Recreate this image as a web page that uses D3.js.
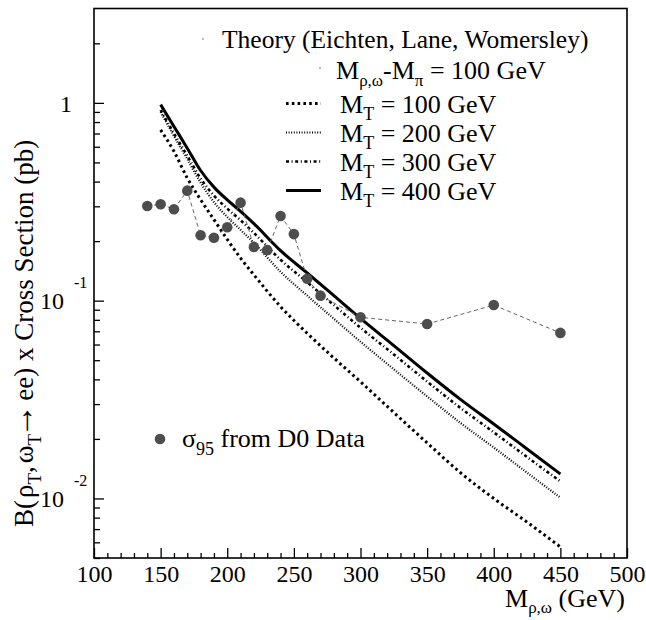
<!DOCTYPE html>
<html>
<head>
<meta charset="UTF-8">
<title>Technicolor cross section</title>
<script src="https://d3js.org/d3.v7.min.js"></script>
<style>
  body { margin: 0; background: #fff; }
  svg text { font-family: "Liberation Serif", "Times New Roman", serif; fill: #000; }
  .axis path { display: none; }
  .axis line { stroke: #000; stroke-width: 1.3px; }
  .axis text { font-size: 24px; font-family: "Liberation Serif", serif; }
</style>
</head>
<body>
<svg width="646" height="620"></svg>
<script>
// theory curves, M_rho,omega - M_pi = 100 GeV
var massGrid = [150, 160, 170, 180, 190, 200, 210, 220, 240, 260, 280, 300, 325, 350, 375, 400, 425, 450];
var mt100 = [0.73, 0.569, 0.417, 0.324, 0.257, 0.204, 0.164, 0.135, 0.0933, 0.0684, 0.0513, 0.0389, 0.0272, 0.0191, 0.0135, 0.0100, 0.00759, 0.00569];
var mt200 = [0.90, 0.68, 0.52, 0.395, 0.315, 0.265, 0.228, 0.196, 0.140, 0.106, 0.081, 0.062, 0.045, 0.0328, 0.0241, 0.0181, 0.0135, 0.0101];
var mt300 = [0.92, 0.70, 0.54, 0.415, 0.34, 0.292, 0.255, 0.22, 0.161, 0.124, 0.095, 0.073, 0.0535, 0.039, 0.0287, 0.0216, 0.0162, 0.0122];
var mt400 = [0.98, 0.76, 0.59, 0.455, 0.375, 0.323, 0.283, 0.245, 0.179, 0.138, 0.106, 0.0813, 0.0593, 0.0431, 0.0317, 0.0238, 0.0178, 0.0133];

// D0 95% CL limits
var dataMass = [140, 150, 160, 170, 180, 190, 200, 210, 220, 230, 240, 250, 260, 270, 300, 350, 400, 450];
var dataSigma = [0.301, 0.307, 0.290, 0.360, 0.214, 0.208, 0.235, 0.313, 0.187, 0.180, 0.268, 0.217, 0.129, 0.106, 0.0824, 0.0762, 0.095, 0.0687];

var xTicks = [100, 150, 200, 250, 300, 350, 400, 450, 500];
var yDecades = [1, 0.1, 0.01];
var yExponents = ["", "-1", "-2"];

var legendNames = ["M_T = 100 GeV", "M_T = 200 GeV", "M_T = 300 GeV", "M_T = 400 GeV"];

var svg = d3.select("svg");
var plotL = 94, plotR = 627, plotT = 8.5, plotB = 558;

var x = d3.scaleLinear().domain([100, 500]).range([plotL, plotR]);
var y = d3.scaleLog().domain([0.005, 3]).range([plotB, plotT]);

// frame
svg.append("rect")
    .attr("x", plotL).attr("y", plotT)
    .attr("width", plotR - plotL).attr("height", plotB - plotT)
    .style("fill", "none").style("stroke", "#000").style("stroke-width", 1.6);

// x axis: minor then major ticks
var minorX = d3.range(100, 501, 10).filter(function(v) { return v % 50 != 0; });
svg.append("g").attr("class", "axis")
    .attr("transform", "translate(0," + plotB + ")")
    .call(d3.axisBottom(x).tickValues(minorX).tickSizeInner(-5).tickSizeOuter(0).tickFormat(""));
svg.append("g").attr("class", "axis")
    .attr("transform", "translate(0," + plotB + ")")
    .call(d3.axisBottom(x).tickValues(xTicks).tickSizeInner(-10).tickSizeOuter(0).tickPadding(7).tickFormat(d3.format("d")));

// y axis ticks
var minorY = [];
[0.001, 0.01, 0.1, 1].forEach(function(d) {
    for (var k = 2; k <= 9; k++) {
        var v = d * k;
        if (v >= 0.005 && v < 3) minorY.push(v);
    }
});
svg.append("g").attr("class", "axis")
    .attr("transform", "translate(" + plotL + ",0)")
    .call(d3.axisLeft(y).tickValues(minorY).tickSizeInner(-6).tickSizeOuter(0).tickFormat(""));
svg.append("g").attr("class", "axis")
    .attr("transform", "translate(" + plotL + ",0)")
    .call(d3.axisLeft(y).tickValues(yDecades).tickSizeInner(-10).tickSizeOuter(0).tickFormat(""));

// y tick labels (10 with superscript)
yDecades.forEach(function(v, i) {
    var yy = y(v);
    if (yExponents[i] == "") {
        svg.append("text").attr("x", 72).attr("y", yy + 9.5)
            .attr("text-anchor", "end").style("font-size", "24px").text("1");
    } else {
        svg.append("text").attr("x", 64).attr("y", yy + 8.5)
            .attr("text-anchor", "end").style("font-size", "24px").text("10");
        svg.append("text").attr("x", 74).attr("y", yy - 12.5)
            .style("font-size", "16px").text(yExponents[i]);
    }
});

// axis titles
var xt = svg.append("text").attr("x", 625).attr("y", 607)
    .attr("text-anchor", "end").style("font-size", "26px");
xt.append("tspan").text("M");
xt.append("tspan").attr("dy", 6).style("font-size", "17px").text("ρ,ω");
xt.append("tspan").attr("dy", -6).text(" (GeV)");

var yt = svg.append("text")
    .attr("transform", "translate(33,527) rotate(-90)")
    .style("font-size", "27px");
yt.append("tspan").text("B(");
yt.append("tspan").attr("dx", 2).text("ρ");
yt.append("tspan").attr("dy", 8).style("font-size", "19px").text("T");
yt.append("tspan").attr("dy", -8).text(",");
yt.append("tspan").attr("dx", 3).text("ω");
yt.append("tspan").attr("dy", 8).style("font-size", "19px").text("T");
yt.append("tspan").attr("dy", -8).attr("dx", -4).style("font-size", "34px").text("→");
yt.append("tspan").attr("dx", 3).text("ee) x Cross Section (pb)");

// theory curves
var styles = [
    { w: 3, dash: "2.6,3.2" },
    { w: 2.2, dash: "1,1.6" },
    { w: 2.6, dash: "3,2.6,1,2.6" },
    { w: 3, dash: null }
];
var series = [mt100, mt200, mt300, mt400];

var line = d3.line()
    .x(function(d) { return x(d[0]); })
    .y(function(d) { return y(d[1]); })
    .curve(d3.curveMonotoneX);

series.forEach(function(vals, i) {
    var pts = massGrid.map(function(m, j) { return [m, vals[j]]; });
    svg.append("path").datum(pts)
        .attr("d", line)
        .style("fill", "none").style("stroke", "#000")
        .style("stroke-width", styles[i].w)
        .style("stroke-dasharray", styles[i].dash);
});

// D0 data
var dataPts = dataMass.map(function(m, j) { return [m, dataSigma[j]]; });
svg.append("path").datum(dataPts)
    .attr("d", d3.line().x(function(d) { return x(d[0]); }).y(function(d) { return y(d[1]); }))
    .style("fill", "none").style("stroke", "#666").style("stroke-width", 1)
    .style("stroke-dasharray", "4,3");
svg.append("g").selectAll("circle").data(dataPts).enter().append("circle")
    .attr("cx", function(d) { return x(d[0]); })
    .attr("cy", function(d) { return y(d[1]); })
    .attr("r", 5.3)
    .style("fill", "#4d4d4d");

// legend
svg.append("circle").attr("cx", 203).attr("cy", 39).attr("r", 0.7).style("fill", "#444");
svg.append("text").attr("x", 222).attr("y", 48).style("font-size", "25.5px")
    .text("Theory (Eichten, Lane, Womersley)");
svg.append("circle").attr("cx", 320).attr("cy", 68).attr("r", 0.7).style("fill", "#444");
var t2 = svg.append("text").attr("x", 336).attr("y", 79).style("font-size", "26px");
t2.append("tspan").text("M");
t2.append("tspan").attr("dy", 7).style("font-size", "17px").text("ρ,ω");
t2.append("tspan").attr("dy", -7).text("-M");
t2.append("tspan").attr("dy", 7).style("font-size", "17px").text("π");
t2.append("tspan").attr("dy", -7).text(" = 100 GeV");

legendNames.forEach(function(name, i) {
    var ly = 103.5 + i * 29;
    svg.append("line")
        .attr("x1", 286).attr("x2", 321).attr("y1", ly).attr("y2", ly)
        .style("stroke", "#000").style("stroke-width", styles[i].w)
        .style("stroke-dasharray", styles[i].dash);
    var parts = name.split("_");
    var t = svg.append("text").attr("x", 340).attr("y", ly + 9).style("font-size", "26px");
    t.append("tspan").text(parts[0]);
    t.append("tspan").attr("dy", 7).style("font-size", "18px").text(parts[1].charAt(0));
    t.append("tspan").attr("dy", -7).text(parts[1].slice(1));
});

svg.append("circle").attr("cx", 160).attr("cy", 439).attr("r", 5.3).style("fill", "#4d4d4d");
var t3 = svg.append("text").attr("x", 182).attr("y", 447).style("font-size", "26px");
t3.append("tspan").text("σ");
t3.append("tspan").attr("dy", 8).style("font-size", "18px").text("95");
t3.append("tspan").attr("dy", -8).text(" from D0 Data");
</script>
</body>
</html>
